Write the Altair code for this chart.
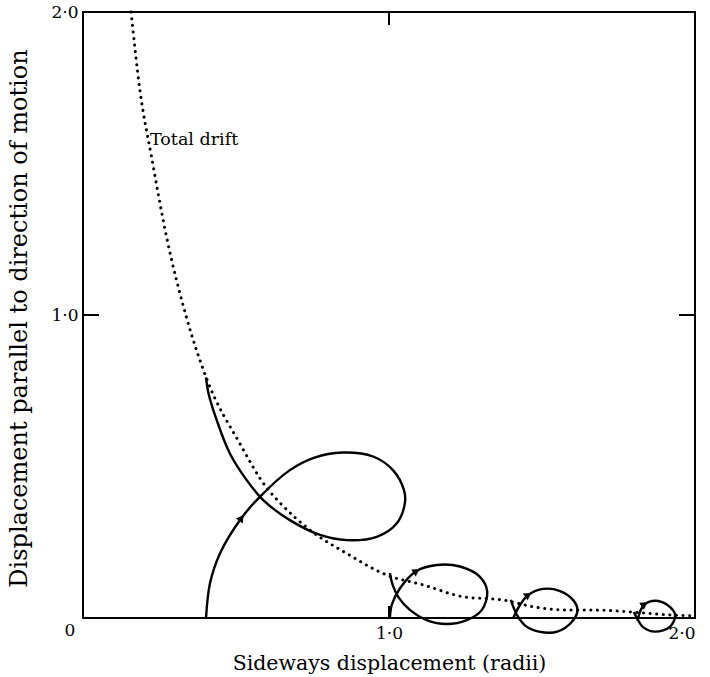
import math
import altair as alt
import pandas as pd

W, H = 612, 606
FONT = "DejaVu Serif"

# Total drift (dotted curve)
drift_x = [0.157, 0.186, 0.224, 0.273, 0.339, 0.404, 0.513, 0.600, 0.644, 0.742, 0.862,
           0.992, 1.112, 1.243, 1.374, 1.472, 1.592, 1.678, 1.776, 1.918, 1.99]
drift_y = [2.0, 1.742, 1.522, 1.258, 0.989, 0.79, 0.575, 0.43, 0.38, 0.29, 0.213,
           0.142, 0.109, 0.070, 0.059, 0.037, 0.026, 0.026, 0.021, 0.010, 0.007]

# Trajectory loops
loop1_x = [0.402, 0.415, 0.448, 0.518, 0.578, 0.676, 0.752, 0.85, 0.948, 1.013, 1.049,
           1.052, 1.025, 0.96, 0.862, 0.775, 0.676, 0.589, 0.535, 0.48, 0.437, 0.41, 0.402]
loop1_y = [0.0, 0.115, 0.214, 0.33, 0.40, 0.488, 0.528, 0.546, 0.533, 0.488, 0.422,
           0.38, 0.312, 0.268, 0.257, 0.274, 0.323, 0.389, 0.455, 0.543, 0.653, 0.742, 0.794]

loop2_x = [1.003, 1.009, 1.036, 1.09, 1.156, 1.232, 1.297, 1.321, 1.303, 1.254, 1.188,
           1.123, 1.069, 1.03, 1.012, 1.003]
loop2_y = [0.0, 0.043, 0.098, 0.155, 0.175, 0.17, 0.136, 0.087, 0.026, -0.007, -0.02,
           -0.007, 0.026, 0.07, 0.109, 0.148]

loop3_x = [1.406, 1.428, 1.455, 1.504, 1.559, 1.602, 1.616, 1.60, 1.55, 1.49, 1.445,
           1.418, 1.405, 1.398]
loop3_y = [0.0, 0.043, 0.076, 0.096, 0.089, 0.059, 0.026, -0.01, -0.045, -0.045, -0.025,
           0.01, 0.04, 0.06]

loop4_x = [1.812, 1.822, 1.835, 1.87, 1.91, 1.935, 1.918, 1.87, 1.83, 1.814, 1.80]
loop4_y = [-0.01, 0.025, 0.045, 0.057, 0.043, 0.01, -0.029, -0.045, -0.03, -0.007, 0.02]

loops = [(loop1_x, loop1_y), (loop2_x, loop2_y), (loop3_x, loop3_y), (loop4_x, loop4_y)]
# arrowheads: (loop number, index of path point)
arrow_loop = [0, 1, 2, 3]
arrow_index = [3, 3, 2, 2]

tick_values = [1.0]
label_text = ["Total drift"]
label_x = [0.219]
label_y = [1.578]

# ---- tables ----
rows = []
for k, (xs, ys) in enumerate(loops):
    for i, (a, b) in enumerate(zip(xs, ys)):
        rows.append({"x": a, "y": b, "loop": k, "i": i})
path_df = pd.DataFrame(rows)

drift_df = pd.DataFrame({"x": drift_x, "y": drift_y, "i": range(len(drift_x))})

arr = []
for k, i in zip(arrow_loop, arrow_index):
    xs, ys = loops[k]
    dxp = (xs[i + 1] - xs[i - 1]) * W / 2
    dyp = -(ys[i + 1] - ys[i - 1]) * H / 2
    ang = math.degrees(math.atan2(dxp, -dyp)) % 360
    arr.append({"x": xs[i], "y": ys[i], "angle": ang})
arrow_df = pd.DataFrame(arr)

xs_ = alt.Scale(domain=[0, 2], nice=False, zero=False)
ys_ = alt.Scale(domain=[0, 2], nice=False, zero=False)

label_expr = "replace(format(datum.value, '.1f'), '.', '·')"

base_x = alt.X("x:Q", scale=xs_, axis=alt.Axis(
    values=[1.0, 2.0], labelExpr=label_expr, title="Sideways displacement (radii)",
    grid=False, ticks=False, domain=False, labelFont=FONT, labelFontSize=17,
    labelColor="black", labelPadding=7, titleFont=FONT, titleFontSize=20.5,
    titleFontWeight="normal", titleColor="black", titleY=45, titleBaseline="middle"))
base_y = alt.Y("y:Q", scale=ys_, axis=alt.Axis(
    values=[1.0, 2.0], labelExpr=label_expr,
    title="Displacement parallel to direction of motion",
    grid=False, ticks=False, domain=False, labelFont=FONT, labelFontSize=17,
    labelColor="black", labelPadding=5, titleFont=FONT, titleFontSize=24,
    titleFontWeight="normal", titleColor="black", titleX=-64, titleBaseline="middle",
    titleAngle=270, titleY=H / 2 + 3, titleAlign="center"))

drift = alt.Chart(drift_df).mark_line(
    color="black", strokeWidth=3, strokeDash=[0.1, 6.5], strokeCap="round",
    interpolate="monotone").encode(x=base_x, y=base_y, order="i:Q")

paths = alt.Chart(path_df).mark_line(
    color="black", strokeWidth=2.4, interpolate="catmull-rom").encode(
    x=alt.X("x:Q", scale=xs_), y=alt.Y("y:Q", scale=ys_),
    detail="loop:N", order="i:Q")

arrows = alt.Chart(arrow_df).mark_point(
    shape="triangle-up", filled=True, color="black", size=70, opacity=1).encode(
    x=alt.X("x:Q", scale=xs_), y=alt.Y("y:Q", scale=ys_),
    angle=alt.Angle("angle:Q", scale=None))

label = alt.Chart(pd.DataFrame({"t": label_text, "x": label_x, "y": label_y})).mark_text(
    font=FONT, fontSize=17.5, align="left", baseline="middle", color="black").encode(
    x=alt.X("x:Q", scale=xs_), y=alt.Y("y:Q", scale=ys_), text="t:N")

corner = alt.Chart(pd.DataFrame({"t": ["0"], "x": [0.0], "y": [0.0]})).mark_text(
    font=FONT, fontSize=17, align="center", baseline="middle", color="black",
    dx=-13, dy=13).encode(
    x=alt.X("x:Q", scale=xs_), y=alt.Y("y:Q", scale=ys_), text="t:N")

tdf = pd.DataFrame({"v": tick_values})
tick_top = alt.Chart(tdf).mark_rule(color="black", strokeWidth=2).encode(
    x=alt.X("v:Q", scale=xs_), y=alt.value(0), y2=alt.value(13))
tick_bottom = alt.Chart(tdf).mark_rule(color="black", strokeWidth=2).encode(
    x=alt.X("v:Q", scale=xs_), y=alt.value(H), y2=alt.value(H - 12))
tick_left = alt.Chart(tdf).mark_rule(color="black", strokeWidth=2).encode(
    y=alt.Y("v:Q", scale=ys_), x=alt.value(0), x2=alt.value(16))
tick_right = alt.Chart(tdf).mark_rule(color="black", strokeWidth=2).encode(
    y=alt.Y("v:Q", scale=ys_), x=alt.value(W), x2=alt.value(W - 16))

chart = alt.layer(drift, paths, arrows, label, corner,
                  tick_top, tick_bottom, tick_left, tick_right).properties(
    width=W, height=H,
    autosize=alt.AutoSizeParams(type="none"),
    padding={"left": 83, "top": 12, "right": 15, "bottom": 59},
).configure(background="white").configure_view(stroke="black", strokeWidth=2)

chart.save("out.html", embed_options={"renderer": "svg", "actions": False})
